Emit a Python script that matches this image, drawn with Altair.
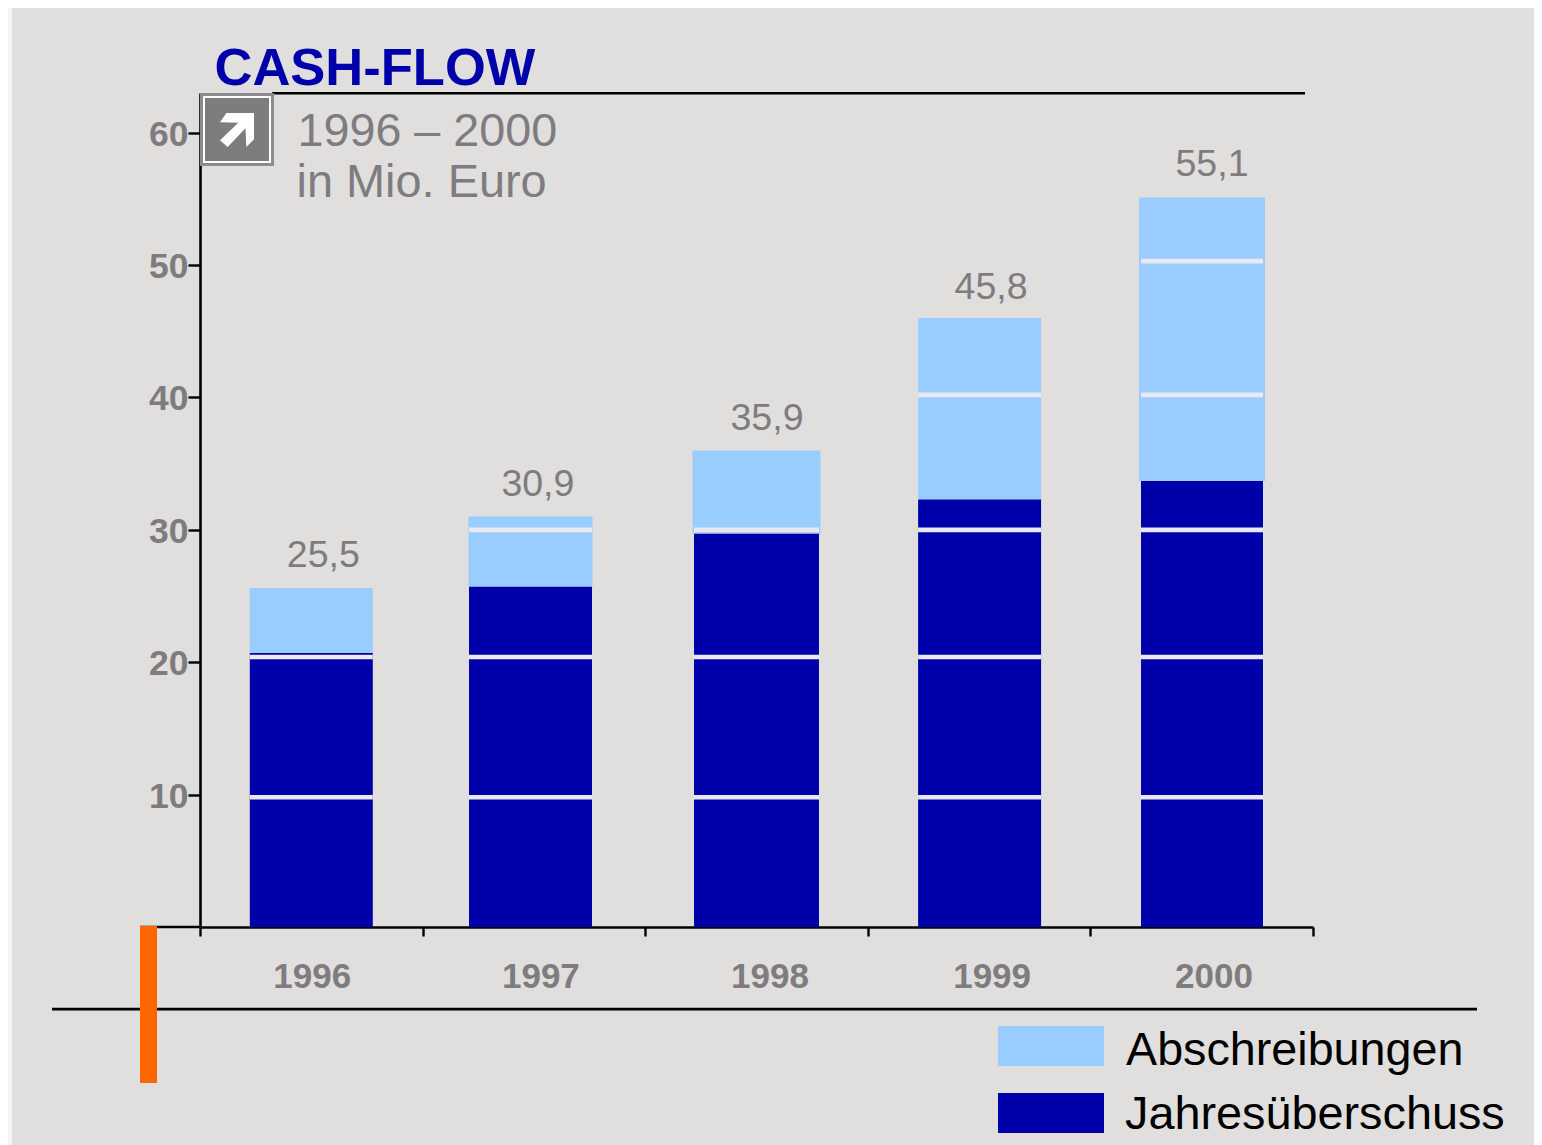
import altair as alt
import pandas as pd

years = ["1996", "1997", "1998", "1999", "2000"]
jahresueberschuss = [20.7, 25.7, 29.7, 32.3, 33.7]
bar_tops = [25.6, 31.0, 36.0, 46.0, 55.1]
total_labels = ["25,5", "30,9", "35,9", "45,8", "55,1"]
separators = [
    [9.8, 20.4],
    [9.8, 20.4, 30.0],
    [9.8, 20.4, 30.0],
    [9.8, 20.4, 30.0, 40.2],
    [9.8, 20.4, 30.0, 40.2, 50.3],
]
legend_labels = ["Abschreibungen", "Jahresüberschuss"]

# styling per year (offsets from the band centre, bar widths)
bar_nudge = [0, -3.4, 0, 0.5, 0.3]
navy_w = [123, 123, 125, 123, 122]
light_w = [123, 124, 128, 123, 126]
tick_label_dx = [1, 7, 13.5, 13, 12.3]
total_label_dx = [12, 4, 10.5, 12, 10.3]
total_label_dy = [-21, -21, -20, -19, -22]

NAVY = "#0000AA"
LIGHT = "#99CCFF"
GREY = "#7F7C80"
BG = "#E0DFDD"
SEP = "#E9E9EF"
FONT = "Liberation Sans"

L, T = 200, 93  # plot-area origin on the page
W, H = 1113, 834


def px(v):
    return alt.value(v - L)


def py(v):
    return alt.value(v - T)


def rect(x0, x1, y0, y1, color, **kw):
    return alt.Chart(pd.DataFrame({"a": [0]})).mark_rect(color=color, **kw).encode(
        x=px(x0), x2=px(x1), y=py(y0), y2=py(y1)
    )


def label(text, x, y, size, color, bold=False):
    return alt.Chart(pd.DataFrame({"t": [text]})).mark_text(
        font=FONT, fontSize=size, color=color, align="left", baseline="alphabetic",
        fontWeight="bold" if bold else "normal",
    ).encode(x=px(x), y=py(y), text="t:N")


x_scale = alt.Scale(domain=years, paddingInner=0, paddingOuter=0)
y_scale = alt.Scale(domain=[0, 63], nice=False)

x_enc = alt.X("year:N", scale=x_scale, title=None, axis=alt.Axis(
    labels=False, domainColor="black", domainWidth=2.6, tickColor="black", tickWidth=2.4,
    tickSize=9, tickBand="extent", tickExtra=True, grid=False,
))
y_axis = alt.Axis(
    values=[10, 20, 30, 40, 50, 60], domainColor="black", domainWidth=2.6, tickColor="black",
    tickWidth=2.4, tickSize=12, labelPadding=0, labelFont=FONT, labelFontSize=35.5,
    labelFontWeight="bold", labelColor=GREY, grid=False, labelOffset=1.5,
)

layers = []
for i, yr in enumerate(years):
    row = pd.DataFrame({
        "year": [yr], "jahr": [jahresueberschuss[i]], "top": [bar_tops[i]],
        "zero": [0], "label": [total_labels[i]], "t": [yr],
    })
    base = alt.Chart(row)
    layers.append(base.mark_bar(color=LIGHT, size=light_w[i], xOffset=bar_nudge[i]).encode(
        x=x_enc,
        y=alt.Y("top:Q", scale=y_scale, title=None, axis=y_axis),
        y2="jahr:Q",
    ))
    layers.append(base.mark_bar(color=NAVY, size=navy_w[i], xOffset=bar_nudge[i]).encode(
        x=x_enc,
        y=alt.Y("jahr:Q", scale=y_scale, title=None, axis=y_axis),
        y2="zero:Q",
    ))
    sep = pd.DataFrame({"year": yr, "v": separators[i]})
    layers.append(alt.Chart(sep).mark_tick(
        color=SEP, thickness=4.6, size=navy_w[i], opacity=1, xOffset=bar_nudge[i]
    ).encode(x=x_enc, y=alt.Y("v:Q", scale=y_scale, title=None, axis=y_axis)))
    layers.append(base.mark_text(
        font=FONT, fontSize=37.5, color=GREY, baseline="alphabetic", dx=total_label_dx[i],
        dy=total_label_dy[i],
    ).encode(x=x_enc, y=alt.Y("top:Q", scale=y_scale, title=None, axis=y_axis), text="label:N"))
    layers.append(base.mark_text(
        font=FONT, fontSize=35, fontWeight="bold", color=GREY, baseline="alphabetic",
        dx=tick_label_dx[i],
    ).encode(x=x_enc, y=py(988), text="t:N"))

arrow = ("M -0.62 -1 L 1 -1 L 1 0.55 L 0.55 1 L 0.5 -0.1 L -0.55 1 L -1 0.6 "
         "L 0.08 -0.42 L -1 -0.45 Z")

decor = [
    rect(8, 12, 8, 1145, "#F4F4F4"),
    rect(272, 1305, 92, 94.6, "black"),
    rect(140, 200, 925.8, 928.2, "black"),
    rect(52, 1477, 1007.8, 1010.4, "black"),
    rect(140, 157, 926, 1083, "#FF6600"),
    rect(200, 274, 93, 166, "#8E8B8F"),
    rect(203, 271, 96, 163, "#FFFFFF"),
    rect(205, 269, 98, 161, "#7F7C80"),
    alt.Chart(pd.DataFrame({"a": [0]})).mark_point(
        shape=arrow, filled=True, color="white", size=1156, opacity=1
    ).encode(x=px(237), y=py(130)),
    label("CASH-FLOW", 214.5, 85, 52.5, NAVY, bold=True),
    label("1996 – 2000", 297.5, 146, 46.7, GREY),
    label("in Mio. Euro", 296.5, 197, 46.9, GREY),
    rect(998, 1104, 1026, 1066, LIGHT),
    rect(998, 1104, 1093, 1133, NAVY),
    label(legend_labels[0], 1126, 1065, 46.7, "black"),
    label(legend_labels[1], 1125, 1129, 46.8, "black"),
]

chart = alt.layer(*layers, *decor).properties(
    width=W, height=H,
    padding={"left": 192, "top": 85, "right": 221, "bottom": 218},
    autosize=alt.AutoSizeParams(type="none"),
    background=BG,
).configure_view(stroke=None)

chart.save("out.html", embed_options={"renderer": "svg", "actions": False})
